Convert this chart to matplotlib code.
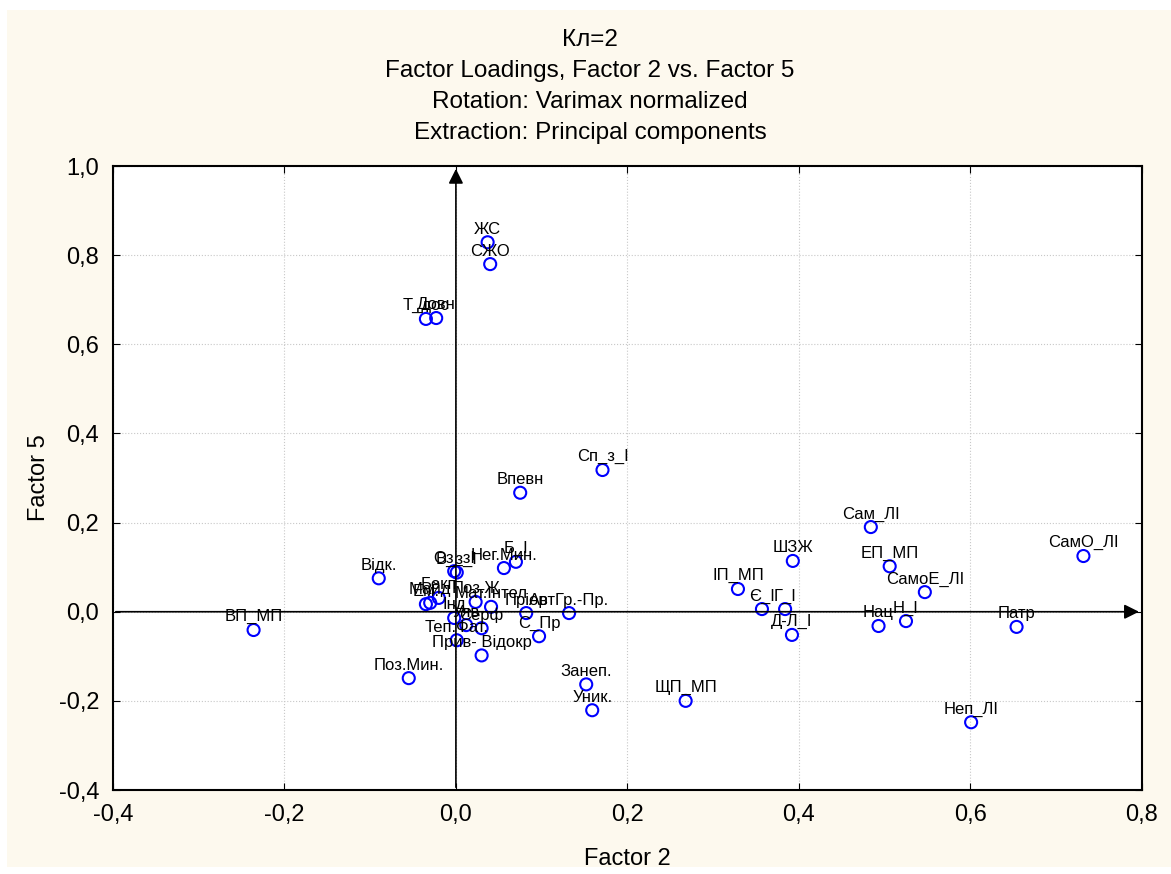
import numpy as np
import matplotlib.pyplot as plt
from matplotlib.patches import Rectangle
from matplotlib.ticker import FuncFormatter

plt.rcParams['font.family'] = ['Liberation Sans', 'DejaVu Sans']

# назви змінних і навантаження (Factor 2, Factor 5)
labels = ['ЖС', 'СЖО', 'Т_дос', 'Довн', 'Сп_з_І', 'Впевн', 'Сам_ЛІ', 'ШЗЖ',
          'ЕП_МП', 'СамО_ЛІ', 'СамоЕ_ЛІ', 'ІП_МП', 'Є_І', 'Г_І', 'Д-Л_І',
          'Нац', 'Н_І', 'Патр', 'Неп_ЛІ', 'ЩП_МП', 'Занеп.', 'Уник.', 'ВП_МП',
          'Відк.', 'Поз.Мин.', 'Оз_зІ', 'В_з_І', 'Нег.Мин.', 'Б_І', 'Ем.',
          'Майд', 'Бекп', 'Поз.Ж', 'Мат.Інтел', 'Інд', 'Пріор', 'АвтГр.-Пр.',
          'Уяв', 'Серф', 'Теп.Фат.', 'С_Пр', 'Прив- Відокр']
f2 = [0.037, 0.040, -0.035, -0.023, 0.171, 0.075, 0.484, 0.393,
      0.506, 0.732, 0.547, 0.329, 0.357, 0.384, 0.392,
      0.493, 0.525, 0.654, 0.601, 0.268, 0.152, 0.159, -0.236,
      -0.090, -0.055, -0.002, 0.001, 0.056, 0.070, -0.035,
      -0.030, -0.020, 0.023, 0.041, -0.002, 0.082, 0.132,
      0.012, 0.030, 0.001, 0.097, 0.030]
f5 = [0.829, 0.780, 0.657, 0.659, 0.318, 0.267, 0.190, 0.114,
      0.102, 0.125, 0.044, 0.051, 0.006, 0.006, -0.052,
      -0.032, -0.021, -0.034, -0.248, -0.200, -0.163, -0.221, -0.041,
      0.075, -0.149, 0.091, 0.088, 0.098, 0.112, 0.017,
      0.020, 0.031, 0.022, 0.011, -0.014, -0.003, -0.003,
      -0.030, -0.037, -0.064, -0.055, -0.098]

xticks = [-0.4, -0.2, 0.0, 0.2, 0.4, 0.6, 0.8]
yticks = [-0.4, -0.2, 0.0, 0.2, 0.4, 0.6, 0.8, 1.0]

fig = plt.figure(figsize=(11.71, 8.74), dpi=100)
fig.patch.set_facecolor('white')
# кремовий фон
fig.patches.append(Rectangle((0.006, 0.008), 0.994, 0.981, transform=fig.transFigure,
                             facecolor='#fdf9ee', edgecolor='none', zorder=-1))

ax = fig.add_axes([0.0965, 0.0961, 0.8785, 0.7139])
ax.set_facecolor('white')

ax.scatter(f2, f5, s=75, facecolors='none', edgecolors='#0000ff', linewidths=1.5, zorder=3)
for lab, x, y in zip(labels, f2, f5):
    ax.annotate(lab, (x, y), xytext=(0, 4), textcoords='offset points',
                ha='center', va='bottom', fontsize=12, zorder=4)

# осі зі стрілками
ax.annotate('', xy=(0.8, 0), xytext=(-0.4, 0),
            arrowprops=dict(arrowstyle='-|>', color='black', lw=1.2, mutation_scale=22))
ax.annotate('', xy=(0, 1.0), xytext=(0, -0.4),
            arrowprops=dict(arrowstyle='-|>', color='black', lw=1.2, mutation_scale=22))

ax.set_xlim(-0.4, 0.8)
ax.set_ylim(-0.4, 1.0)
ax.set_xticks(xticks)
ax.set_yticks(yticks)
fmt = FuncFormatter(lambda v, p: f'{v:.1f}'.replace('.', ',').replace('-0,0', '0,0'))
ax.xaxis.set_major_formatter(fmt)
ax.yaxis.set_major_formatter(fmt)
ax.tick_params(direction='in', labelsize=17, length=5, top=True, right=True, pad=10)
ax.grid(True, linestyle=':', color='#c8c8c8', lw=0.8)
for s in ax.spines.values():
    s.set_linewidth(1.5)

ax.set_xlabel('Factor 2', fontsize=17, labelpad=16)
ax.set_ylabel('Factor 5', fontsize=17, labelpad=6)

titles = ['Кл=2', 'Factor Loadings, Factor 2 vs. Factor 5',
          'Rotation: Varimax normalized', 'Extraction: Principal components']
for i, t in enumerate(titles):
    fig.text(0.504, 1 - (40 + 31 * i) / 874, t, ha='center', va='center', fontsize=17.5)

fig.savefig('out.png', dpi=100, facecolor=fig.get_facecolor())
